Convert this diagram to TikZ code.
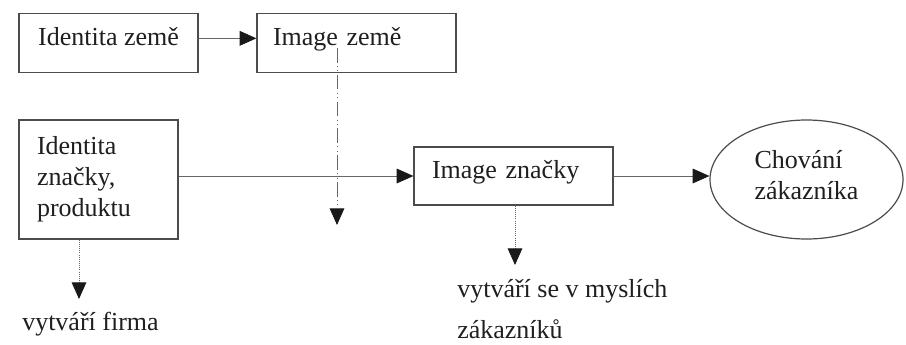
\documentclass[tikz,border=0pt]{standalone}
\usepackage{fontspec}
\setmainfont{Liberation Serif}
\usetikzlibrary{arrows.meta,shapes.geometric}
\begin{document}
\begin{tikzpicture}[x=0.75pt,y=-0.75pt,
  every node/.style={font=\fontsize{19.5}{23.25}\selectfont, text=black!88},
  boxnode/.style={draw=black!70, line width=0.9pt, rectangle, align=left, inner ysep=0pt},
  oneline/.style={text height=0.7em, text depth=0.3em},
  conn/.style={draw=black!60, line width=0.7pt,
    -{Triangle[length=12.5pt,width=11pt,color=black!90]}},
  dotline/.style={conn, dash pattern=on 0.7pt off 0.9pt},
  dashdot/.style={conn, dash pattern=on 11pt off 2.5pt on 0.8pt off 2.5pt on 0.8pt off 2.5pt},
  lbl/.style={inner sep=0pt, anchor=base west}
]
\useasboundingbox (0,0) rectangle (906,344);

% boxes
\node[boxnode, oneline, align=center, minimum width=134.25pt, minimum height=44.25pt, inner xsep=0pt]
  (idz) at (108.5,43) {Identita země};
\node[boxnode, oneline, text width=125.25pt, inner xsep=12pt, minimum height=44.25pt]
  (imz) at (356.5,43) {Image země};
\node[boxnode, text width=92.25pt, inner xsep=13.5pt, minimum height=89.25pt]
  (idp) at (98.5,179.5) {Identita\\ značky,\\ produktu};
\node[boxnode, oneline, text width=122.25pt, inner xsep=13.5pt, minimum height=43.5pt]
  (imp) at (513.5,176) {Image značky};
\node[draw=black!70, line width=0.9pt, ellipse, fill=white, align=left, inner sep=0pt,
  minimum width=144.75pt, minimum height=89.25pt]
  (cz) at (806.5,179.5) {Chování\\ zákazníka\strut};

% labels
\node[lbl] (vf) at (22,330) {vytváří firma};
\node[lbl] (vm1) at (457,297) {vytváří se v myslích};
\node[lbl] (vm2) at (457,338) {zákazníků};

% free ends
\coordinate (d3) at (79,299);
\coordinate (d4) at (515,265);
\coordinate (dd0) at (337,48);
\coordinate (dd1) at (337,225);

% connectors
\draw[conn] ([yshift=3.5pt]idz.east) -- ([yshift=3.5pt]imz.west);
\draw[conn] (idp.east |- imp.west) -- (imp.west);
\draw[conn] (imp.east) -- (imp.east -| cz.west);
\draw[dotline] (idp.south -| d3) -- (d3);
\draw[dotline] (imp.south -| d4) -- (d4);
\draw[dashdot] (dd0) -- (dd1);
\end{tikzpicture}
\end{document}
